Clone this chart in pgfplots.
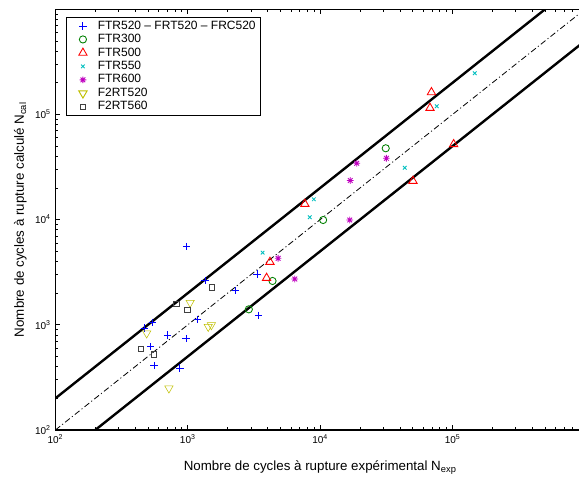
\documentclass[border=0pt]{standalone}
\usepackage{pgfplots}
\pgfplotsset{compat=1.18}
\usepackage{fontspec}
\setmainfont{Liberation Sans}
\definecolor{mblue}{rgb}{0,0,1}
\definecolor{mgreen}{rgb}{0,0.5,0}
\definecolor{mred}{rgb}{1,0,0}
\definecolor{mcyan}{rgb}{0,0.75,0.75}
\definecolor{mmag}{rgb}{0.75,0,0.75}
\definecolor{molive}{rgb}{0.75,0.75,0}
\definecolor{mgray}{rgb}{0.25,0.25,0.25}
\pgfdeclareplotmark{ast8}{%
  \pgfpathmoveto{\pgfqpoint{-\pgfplotmarksize}{0pt}}\pgfpathlineto{\pgfqpoint{\pgfplotmarksize}{0pt}}%
  \pgfpathmoveto{\pgfqpoint{0pt}{-\pgfplotmarksize}}\pgfpathlineto{\pgfqpoint{0pt}{\pgfplotmarksize}}%
  \pgfpathmoveto{\pgfqpoint{-0.707\pgfplotmarksize}{-0.707\pgfplotmarksize}}\pgfpathlineto{\pgfqpoint{0.707\pgfplotmarksize}{0.707\pgfplotmarksize}}%
  \pgfpathmoveto{\pgfqpoint{-0.707\pgfplotmarksize}{0.707\pgfplotmarksize}}\pgfpathlineto{\pgfqpoint{0.707\pgfplotmarksize}{-0.707\pgfplotmarksize}}%
  \pgfusepathqstroke}
\pgfplotsset{
  ml/.style={only marks, mark options={solid, line width=0.65pt},
    legend image code/.code={\path (0pt,0pt) (19.5pt,0pt); \draw[##1] plot coordinates {(9.5pt,0pt)};}},
}
\begin{document}
\begin{tikzpicture}
\begin{axis}[
  scale only axis,
  width=397.2pt, height=315.6pt,
  xmode=log, ymode=log,
  xmin=1e2, xmax=1e6, ymin=1e2, ymax=1e6,
  xtick={1e2,1e3,1e4,1e5,1e6},
  xticklabels={10\textsuperscript{2},10\textsuperscript{3},10\textsuperscript{4},10\textsuperscript{5},{}},
  ytick={1e2,1e3,1e4,1e5,1e6},
  yticklabels={10\textsuperscript{2},10\textsuperscript{3},10\textsuperscript{4},10\textsuperscript{5},{}},
  tick align=inside,
  major tick length=3.8pt, minor tick length=2pt,
  tick style={black, line width=0.5pt},
  axis line style={line width=0.9pt},
  tick label style={font=\fontsize{7.5}{9}\selectfont},
  label style={font=\fontsize{10}{12}\selectfont},
  xlabel={Nombre de cycles à rupture expérimental N\textsubscript{exp}},
  ylabel={Nombre de cycles à rupture calculé N\textsubscript{cal}},
  xlabel style={at={(axis description cs:0.5,-0.09)}, anchor=center},
  ylabel style={at={(axis description cs:-0.066,0.5)}, anchor=center, rotate=0},
  legend style={at={(0.02,0.982)}, anchor=north west, draw=black, line width=0.7pt,
    font=\fontsize{9}{10}\selectfont, inner xsep=2.5pt, inner ysep=1.5pt,
    nodes={inner sep=0.8pt, text height=6.6pt, text depth=1.9pt}},
  legend cell align=left,
  clip=true,
]
% reference lines
\addplot[black, line width=1.8pt, forget plot] coordinates {(1e2,2e2) (5e5,1e6)};
\addplot[black, line width=1.8pt, forget plot] coordinates {(2e2,1e2) (1e6,5e5)};
\addplot[black, line width=0.6pt, dash pattern=on 4.5pt off 2pt on 0.8pt off 2pt, forget plot] coordinates {(1e2,1e2) (1e6,1e6)};
% FTR520 - FRT520 - FRC520
\addplot[ml, mblue, mark=+, mark size=2.8pt] coordinates {
(980,5525) (1349,2626) (2296,2128) (3342,3041) (3420,1231) (1180,1128)
(542,1047) (470,933) (705,800) (968,738) (524,619) (557,410) (871,388)};
\addlegendentry{FTR520 -- FRT520 -- FRC520}
% FTR300
\addplot[ml, mgreen, mark=o, mark size=2.7pt] coordinates {
(2890,1403) (4365,2609) (10520,9910) (31260,47640)};
\addlegendentry{FTR300}
% FTR500
\addplot[ml, mred, mark=triangle, mark size=3.6pt] coordinates {
(4172,3954) (3936,2785) (7660,14070) (69200,162200) (67500,115000) (101800,52000) (50200,23280)};
\addlegendentry{FTR500}
% FTR550
\addplot[ml, mcyan, mark=x, mark size=1.9pt] coordinates {
(3673,4845) (8337,10520) (8954,15600) (43500,31130) (75900,119400) (146900,246000)};
\addlegendentry{FTR550}
% FTR600
\addplot[ml, mmag, mark=ast8, mark size=2.5pt] coordinates {
(4810,4287) (6430,2725) (16710,9910) (16860,23540) (18880,34300) (31620,38270)};
\addlegendentry{FTR600}
% F2RT520
\addplot[ml, molive, mark=triangle, mark options={rotate=180}, mark size=3.6pt] coordinates {
(489,830) (720,249) (1042,1622) (1426,959) (1507,995)};
\addlegendentry{F2RT520}
% F2RT560
\addplot[ml, mgray, mark=square, mark size=2pt] coordinates {
(443,589) (557,524) (820,1577) (993,1392) (1520,2270)};
\addlegendentry{F2RT560}
\end{axis}
\pgfresetboundingbox
\useasboundingbox ([xshift=-41.55pt,yshift=-37.5pt]current axis.south west) rectangle ([xshift=-4.5pt,yshift=6.9pt]current axis.north east);
\end{tikzpicture}
\end{document}
